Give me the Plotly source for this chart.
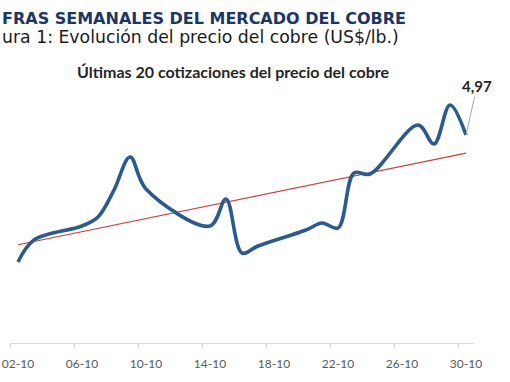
import numpy as np
import pandas as pd
import plotly.graph_objects as go

# ---- data ----
dates = ["2025-10-02", "2025-10-03", "2025-10-06", "2025-10-07", "2025-10-08",
         "2025-10-09", "2025-10-10", "2025-10-14", "2025-10-15", "2025-10-16",
         "2025-10-17", "2025-10-20", "2025-10-21", "2025-10-22", "2025-10-23",
         "2025-10-24", "2025-10-27", "2025-10-28", "2025-10-29", "2025-10-30"]
prices = [4.716, 4.760, 4.788, 4.806, 4.860,
          4.926, 4.862, 4.788, 4.842, 4.734,
          4.748, 4.780, 4.794, 4.784, 4.894,
          4.892, 4.990, 4.952, 5.030, 4.970]
tick_dates = ["2025-10-02", "2025-10-06", "2025-10-10", "2025-10-14",
              "2025-10-18", "2025-10-22", "2025-10-26", "2025-10-30"]
tick_labels = ["02-10", "06-10", "10-10", "14-10", "18-10", "22-10", "26-10", "30-10"]

header1 = "FRAS SEMANALES DEL MERCADO DEL COBRE"
header2 = "ura 1: Evolución del precio del cobre (US$/lb.)"
chart_title = "Últimas 20 cotizaciones del precio del cobre"

# ---- linear trend (least squares on date values) ----
d = pd.to_datetime(dates)
days = (d - d[0]).days.to_numpy(dtype=float)
slope, intercept = np.polyfit(days, np.array(prices), 1)
trend = intercept + slope * days

W, H = 510, 382
ML, MR, MT, MB = 10, 36, 80, 39
PW, PH = W - ML - MR, H - MT - MB


def px_x(x):
    return (x - ML) / PW


def px_y(y):
    return (H - MB - y) / PH


fig = go.Figure()
fig.add_trace(go.Scatter(x=dates, y=trend, mode="lines",
                         line=dict(color="#C9403A", width=1.2),
                         hoverinfo="skip", showlegend=False))
fig.add_trace(go.Scatter(x=dates, y=prices, mode="lines",
                         line=dict(color="#2B5A8C", width=3.6, shape="spline", smoothing=1),
                         showlegend=False))

last_label = f"{prices[-1]:.2f}".replace(".", ",")

annotations = [
    dict(text=f"<b>{header1}</b>", xref="paper", yref="paper",
         x=px_x(0), y=px_y(18.5), xanchor="left", yanchor="middle", showarrow=False,
         font=dict(family="DejaVu Sans", size=16, color="#1C3663")),
    dict(text=header2, xref="paper", yref="paper",
         x=px_x(0), y=px_y(37.5), xanchor="left", yanchor="middle", showarrow=False,
         font=dict(family="DejaVu Sans", size=17.3, color="#1A1A1A")),
    dict(text=f"<b>{chart_title}</b>", xref="paper", yref="paper",
         x=px_x(233), y=px_y(71), xanchor="center", yanchor="middle", showarrow=False,
         font=dict(family="Lato", size=16, color="#262626")),
    dict(text=f"<b>{last_label}</b>", x=dates[-1], y=prices[-1], xref="x", yref="y",
         showarrow=True, arrowhead=0, arrowwidth=1, arrowcolor="#A6A6A6",
         ax=11, ay=-49, font=dict(family="Lato", size=15, color="#262626")),
]

fig.update_layout(
    template="none",
    width=W, height=H,
    margin=dict(l=ML, r=MR, t=MT, b=MB, pad=0, autoexpand=False),
    paper_bgcolor="white", plot_bgcolor="white",
    annotations=annotations,
    showlegend=False,
    xaxis=dict(
        type="date", automargin=False,
        range=["2025-10-01 12:00", "2025-10-30 12:00"],
        tickmode="array", tickvals=tick_dates, ticktext=tick_labels,
        ticks="", showgrid=False, zeroline=False, ticklabelstandoff=10,
        showline=True, linecolor="#D9D9D9", linewidth=1,
        tickfont=dict(family="Lato", size=12, color="#595959"),
        minor=dict(tickmode="linear", tick0="2025-10-01 12:00", dtick=4 * 86400000,
                   ticks="outside", ticklen=4, tickcolor="#D0D0D0", tickwidth=1,
                   showgrid=False),
    ),
    yaxis=dict(range=[4.554, 5.08], visible=False, automargin=False),
)

fig.write_html("out.html", config={"displayModeBar": False},
               post_script="document.body.style.margin='0';")
